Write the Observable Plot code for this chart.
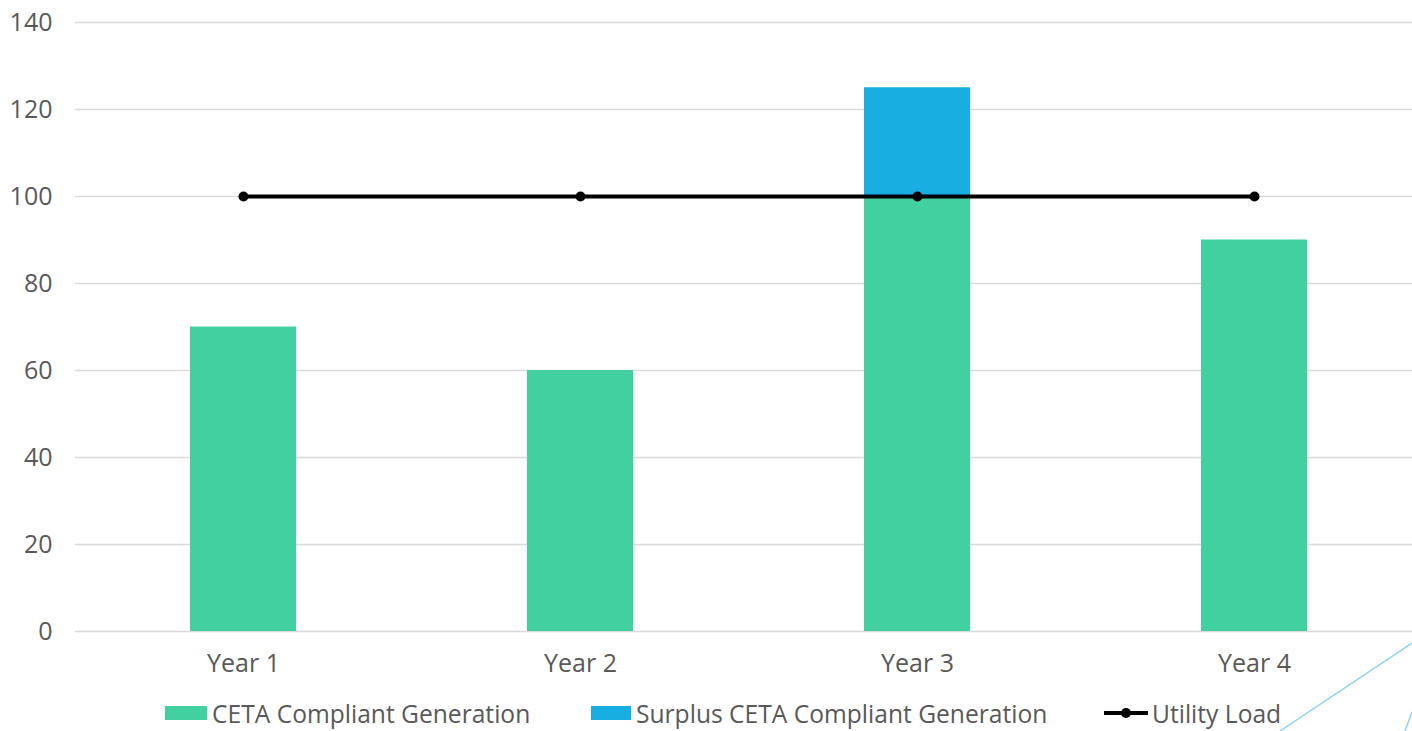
<!DOCTYPE html>
<html>
<head>
<meta charset="utf-8">
<script src="https://cdn.jsdelivr.net/npm/d3@7"></script>
<script src="https://cdn.jsdelivr.net/npm/@observablehq/plot@0.6"></script>
<style>
  html, body { margin: 0; padding: 0; background: #fff; }
  body { width: 1412px; height: 731px; position: relative; overflow: hidden; font-family: "Open Sans", sans-serif; }
  #legend { position: absolute; left: 0; top: 690px; width: 1412px; height: 41px; }
  .item { position: absolute; top: 8px; display: flex; align-items: center; height: 30px; font-size: 24.6px; color: #595959; white-space: nowrap; }
  .sw { width: 42px; height: 14px; margin-right: 5px; }
  .ln { width: 44px; height: 14px; margin-right: 4px; position: relative; }
  .ln::before { content: ""; position: absolute; left: 0; right: 0; top: 5px; height: 4px; background: #000; }
  .ln::after { content: ""; position: absolute; left: 17px; top: 2px; width: 10px; height: 10px; border-radius: 50%; background: #000; }
  #deco { position: absolute; left: 0; top: 0; pointer-events: none; }
</style>
</head>
<body>
<div id="chart"></div>
<div id="legend"></div>
<script>
const categories = ["Year 1", "Year 2", "Year 3", "Year 4"];
const cetaCompliant = [70, 60, 100, 90];
const surplusCompliant = [0, 0, 25, 0];
const utilityLoad = [100, 100, 100, 100];
const yTicks = [0, 20, 40, 60, 80, 100, 120, 140];
const seriesNames = ["CETA Compliant Generation", "Surplus CETA Compliant Generation", "Utility Load"];
const colors = ["#42D0A0", "#18AEE2", "#000000"];

const bars = [];
categories.forEach((c, i) => {
  bars.push({year: c, series: seriesNames[0], value: cetaCompliant[i]});
  bars.push({year: c, series: seriesNames[1], value: surplusCompliant[i]});
});
const load = categories.map((c, i) => ({year: c, value: utilityLoad[i]}));

const chart = Plot.plot({
  width: 1412,
  height: 690,
  marginLeft: 75,
  marginRight: -11,
  marginTop: 22,
  marginBottom: 59,
  style: {fontFamily: "Open Sans, sans-serif", fontSize: "25px", color: "#595959", background: "#fff"},
  x: {domain: categories, paddingInner: 0.685, paddingOuter: 0.34, label: null, tickSize: 0, tickPadding: 23},
  y: {domain: [0, 140], ticks: yTicks, label: null, tickSize: 0, tickPadding: 23},
  color: {domain: seriesNames.slice(0, 2), range: colors.slice(0, 2)},
  marks: [
    Plot.ruleY(yTicks, {stroke: "#d9d9d9", strokeWidth: 1.5}),
    Plot.barY(bars, {x: "year", y: "value", fill: "series", order: seriesNames.slice(0, 2)}),
    Plot.lineY(load, {x: "year", y: "value", stroke: colors[2], strokeWidth: 4}),
    Plot.dot(load, {x: "year", y: "value", fill: colors[2], r: 5})
  ]
});
document.getElementById("chart").appendChild(chart);

const legend = document.getElementById("legend");
const lefts = [165, 591, 1104];
seriesNames.forEach((name, i) => {
  const it = document.createElement("div");
  it.className = "item";
  it.style.left = lefts[i] + "px";
  const sw = document.createElement("div");
  if (i < 2) { sw.className = "sw"; sw.style.background = colors[i]; if (i === 1) sw.style.width = "40px"; }
  else sw.className = "ln";
  it.appendChild(sw);
  const t = document.createElement("span");
  t.textContent = name;
  it.appendChild(t);
  legend.appendChild(it);
});

// decorative slide accent lines (bottom-right)
const ns = "http://www.w3.org/2000/svg";
const deco = document.createElementNS(ns, "svg");
deco.setAttribute("id", "deco");
deco.setAttribute("width", 1412);
deco.setAttribute("height", 731);
[[1280, 731, 1412, 643], [1405, 731, 1412, 712]].forEach(([a, b, c, d]) => {
  const l = document.createElementNS(ns, "line");
  l.setAttribute("x1", a); l.setAttribute("y1", b); l.setAttribute("x2", c); l.setAttribute("y2", d);
  l.setAttribute("stroke", "#8fd3ef"); l.setAttribute("stroke-width", 1.5);
  deco.appendChild(l);
});
document.body.appendChild(deco);
</script>
</body>
</html>
